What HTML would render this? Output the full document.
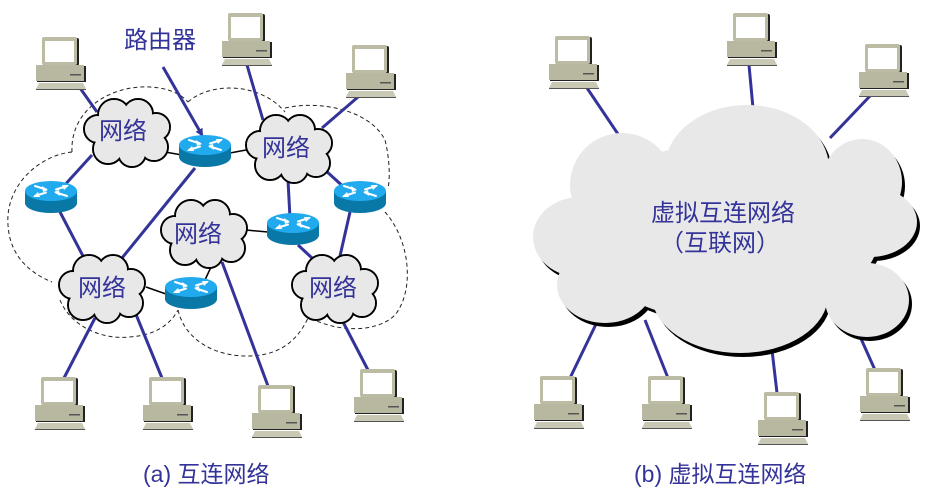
<!DOCTYPE html>
<html><head><meta charset="utf-8"><style>
html,body{margin:0;padding:0;background:#fff;}
svg{display:block;}
text{font-family:"Liberation Sans","Noto Sans CJK SC",sans-serif;fill:#333399;}
</style></head><body>
<svg width="934" height="498" viewBox="0 0 934 498" xmlns="http://www.w3.org/2000/svg">
<defs>
<g id="pc">
  <rect x="8" y="1" width="36" height="28" rx="2" fill="#222"/>
  <rect x="7" y="0" width="35" height="28" rx="2" fill="#bcbca4"/>
  <rect x="10" y="4" width="29" height="21" fill="#fff"/>
  <rect x="2" y="29" width="49" height="16" fill="#222"/>
  <rect x="1" y="28" width="48" height="16" fill="#b8b8a0"/>
  <rect x="35" y="37" width="11" height="1.5" fill="#555"/>
  <polygon points="1,52 51,52 48,46 4,46" fill="#c8c8b4"/>
  <line x1="1" y1="52.5" x2="51" y2="52.5" stroke="#555" stroke-width="1"/>
</g>
<g id="rt">
  <path d="M-26,0 L-26,12 A26,10 0 0 0 26,12 L26,0 Z" fill="#0a78a6"/>
  <ellipse cx="0" cy="0" rx="26" ry="10" fill="#22aaee"/>
  <g stroke="#fff" stroke-width="2" fill="none" stroke-linecap="round">
    <line x1="-16" y1="-5" x2="-5" y2="-1.5"/><line x1="16" y1="5" x2="5" y2="1.5"/>
    <line x1="5" y1="-1.5" x2="16" y2="-5"/><line x1="-5" y1="1.5" x2="-16" y2="5"/>
  </g>
  <g fill="#fff">
    <polygon points="-3,-1 -9,-5 -8,1"/><polygon points="3,1 9,5 8,-1"/>
    <polygon points="18,-6 11,-6 13,-1"/><polygon points="-18,6 -11,6 -13,1"/>
  </g>
</g>
<g id="cloudS">
  <g fill="#e8e8e8" stroke="#000" stroke-width="2">
    <circle cx="18" cy="32" r="14"/><circle cx="34" cy="18" r="16"/><circle cx="58" cy="17" r="15"/>
    <circle cx="76" cy="30" r="14"/><circle cx="74" cy="50" r="14"/><circle cx="52" cy="56" r="14"/>
    <circle cx="28" cy="52" r="15"/>
  </g>
  <g fill="#e8e8e8">
    <circle cx="18" cy="32" r="13"/><circle cx="34" cy="18" r="15"/><circle cx="58" cy="17" r="14"/>
    <circle cx="76" cy="30" r="13"/><circle cx="74" cy="50" r="13"/><circle cx="52" cy="56" r="13"/>
    <circle cx="28" cy="52" r="14"/><ellipse cx="46" cy="36" rx="32" ry="22"/>
  </g>
</g>
<g id="big">
  <ellipse cx="747" cy="168" rx="82" ry="63"/><ellipse cx="622" cy="185" rx="52" ry="52"/>
  <ellipse cx="580" cy="237" rx="47" ry="40"/><ellipse cx="605" cy="285" rx="48" ry="38"/>
  <ellipse cx="740" cy="295" rx="88" ry="58"/><ellipse cx="867" cy="300" rx="42" ry="37"/>
  <ellipse cx="870" cy="222" rx="47" ry="35"/><ellipse cx="862" cy="182" rx="40" ry="43"/>
  <ellipse cx="730" cy="232" rx="150" ry="90"/>
</g>
<marker id="ar" markerWidth="8" markerHeight="8" refX="6" refY="4" orient="auto" markerUnits="userSpaceOnUse">
  <path d="M0,0 L8,4 L0,8 Z" fill="#333399"/>
</marker>
</defs>

<g fill="none" stroke="#222" stroke-width="1" stroke-dasharray="4,3">
  <path d="M72,152 C40,155 5,185 8,225 C10,260 35,275 52,282"/>
  <path d="M72,152 C70,110 110,85 150,87 C170,88 182,95 188,102"/>
  <path d="M188,102 C210,82 260,82 285,112"/>
  <path d="M285,108 C320,100 370,110 385,140 C390,160 390,180 388,188"/>
  <path d="M385,212 C410,240 415,290 395,315 C380,330 345,335 310,318"/>
  <path d="M178,310 C185,340 215,357 250,356 C285,355 300,335 308,318"/>
  <path d="M60,300 C70,325 100,340 130,337 C155,335 170,325 178,310"/>
</g>

<g stroke="#333399" stroke-width="3" fill="none">
  <line x1="80" y1="88" x2="97" y2="112"/>
  <line x1="247" y1="65" x2="263" y2="120"/>
  <line x1="358" y1="97" x2="322" y2="128"/>
  <line x1="92" y1="155" x2="62" y2="188"/>
  <line x1="195" y1="168" x2="122" y2="258"/>
  <line x1="60" y1="212" x2="84" y2="258"/>
  <line x1="288" y1="180" x2="290" y2="218"/>
  <line x1="325" y1="170" x2="347" y2="190"/>
  <line x1="350" y1="212" x2="340" y2="256"/>
  <line x1="222" y1="262" x2="268" y2="386"/>
  <line x1="95" y1="318" x2="64" y2="378"/>
  <line x1="135" y1="312" x2="162" y2="378"/>
  <line x1="342" y1="320" x2="368" y2="370"/>
  <line x1="298" y1="245" x2="312" y2="258"/>
  <line x1="163" y1="67" x2="202" y2="135" marker-end="url(#ar)"/>
</g>
<g stroke="#000" stroke-width="1.5">
  <line x1="165" y1="152" x2="182" y2="155"/>
  <line x1="230" y1="153" x2="246" y2="150"/>
  <line x1="246" y1="230" x2="268" y2="232"/>
  <line x1="146" y1="287" x2="166" y2="294"/>
  <line x1="204" y1="282" x2="212" y2="265"/>
</g>

<use href="#cloudS" x="80" y="97"/>
<use href="#cloudS" x="242" y="113"/>
<use href="#cloudS" x="157" y="198"/>
<use href="#cloudS" x="55" y="253"/>
<use href="#cloudS" x="288" y="253"/>
<g font-size="24" text-anchor="middle">
  <text x="123" y="139">网络</text>
  <text x="286" y="156">网络</text>
  <text x="198" y="242">网络</text>
  <text x="102" y="296">网络</text>
  <text x="333" y="296">网络</text>
</g>

<use href="#rt" x="205" y="145"/>
<use href="#rt" x="51" y="191"/>
<use href="#rt" x="360" y="191"/>
<use href="#rt" x="293" y="223"/>
<use href="#rt" x="191" y="287"/>

<use href="#pc" x="35" y="37"/>
<use href="#pc" x="221" y="13"/>
<use href="#pc" x="345" y="45"/>
<use href="#pc" x="34" y="377"/>
<use href="#pc" x="142" y="377"/>
<use href="#pc" x="251" y="385"/>
<use href="#pc" x="353" y="369"/>

<text x="124" y="48" font-size="24">路由器</text>

<g stroke="#333399" stroke-width="3">
  <line x1="587" y1="88" x2="622" y2="140"/>
  <line x1="749" y1="65" x2="753" y2="108"/>
  <line x1="870" y1="96" x2="830" y2="138"/>
  <line x1="598" y1="320" x2="570" y2="378"/>
  <line x1="645" y1="320" x2="668" y2="378"/>
  <line x1="772" y1="350" x2="777" y2="393"/>
  <line x1="858" y1="332" x2="875" y2="370"/>
</g>

<use href="#big" fill="#000" transform="translate(3,4)"/>
<use href="#big" fill="#e8e8e8"/>
<g font-size="24">
  <text x="651" y="221">虚拟互连网络</text>
  <text x="660" y="251">（互联网）</text>
</g>

<use href="#pc" x="548" y="36"/>
<use href="#pc" x="726" y="13"/>
<use href="#pc" x="858" y="44"/>
<use href="#pc" x="533" y="376"/>
<use href="#pc" x="641" y="376"/>
<use href="#pc" x="757" y="392"/>
<use href="#pc" x="859" y="368"/>

<g font-size="23">
  <text x="143" y="482">(a) 互连网络</text>
  <text x="634" y="482">(b) 虚拟互连网络</text>
</g>
</svg>
</body></html>
